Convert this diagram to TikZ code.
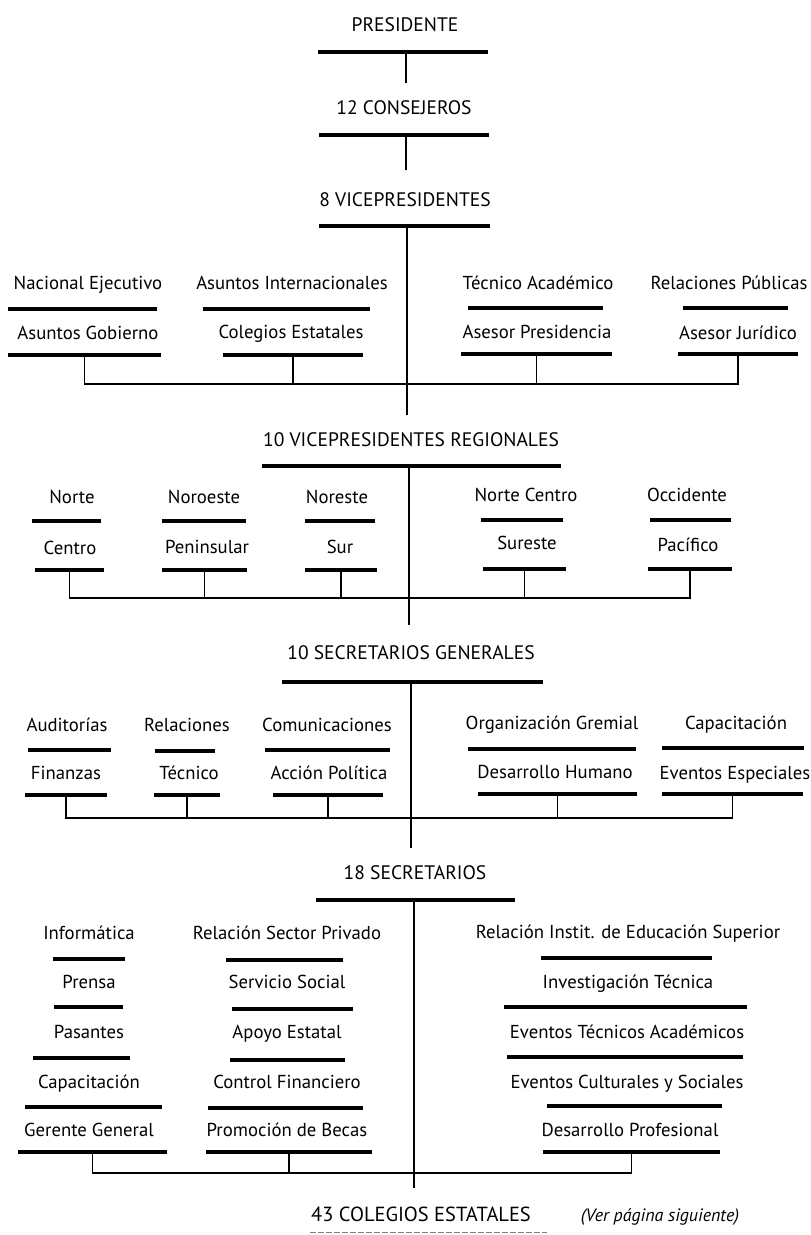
\documentclass[tikz,border=0pt]{standalone}
\usepackage{fontspec}
\setmainfont{PT Sans}
\begin{document}
\begin{tikzpicture}[x=1bp,y=-1bp,
  lab/.style={anchor=base, inner sep=0pt, font=\fontsize{18.8}{20}\selectfont},
  ttl/.style={anchor=base, inner sep=0pt, font=\fontsize{19.6}{21}\selectfont},
  barnode/.style={fill=black, draw=none, inner sep=0pt, minimum height=4.2bp},
  conn/.style={line width=1.6bp, line cap=rect},
  trunk/.style={line width=1.9bp}]
\useasboundingbox (0,0) rectangle (811,1235);

% ---------- top chain ----------
\node[ttl] (p) at (405,31) {PRESIDENTE};
\node[barnode, minimum width=170bp] (pbar) at (403,52) {};
\node[ttl] (c) at (404,114) {12 CONSEJEROS};
\node[barnode, minimum width=170bp] (cbar) at (404,135) {};
\node[ttl] (v) at (405,206) {8 VICEPRESIDENTES};
\node[barnode, minimum width=171bp] (vbar) at (404.5,226) {};
\coordinate (pend) at (406,83);
\coordinate (cend) at (406,170);
\coordinate (vend) at (407,415);
\draw[trunk] (pbar.south -| pend) -- (pend);
\draw[trunk] (cbar.south -| cend) -- (cend);
\draw[trunk] (vbar.south -| vend) -- (vend);

% ---------- section A ----------
\node[lab] (a1t) at (88,289) {Nacional Ejecutivo};
\node[barnode, minimum width=149bp] (a1u) at (82.5,309) {};
\node[lab] (a1s) at (88,339) {Asuntos Gobierno};
\node[barnode, minimum width=153bp] (a1l) at (84.5,355) {};
\node[lab] (a2t) at (292,289) {Asuntos Internacionales};
\node[barnode, minimum width=167bp] (a2u) at (286.5,309) {};
\node[lab] (a2s) at (291,338) {Colegios Estatales};
\node[barnode, minimum width=140bp] (a2l) at (293,355) {};
\node[lab] (a3t) at (538,289) {Técnico Académico};
\node[barnode, minimum width=135bp] (a3u) at (535.5,308) {};
\node[lab] (a3s) at (537,338) {Asesor Presidencia};
\node[barnode, minimum width=151bp] (a3l) at (536.5,354) {};
\node[lab] (a4t) at (729,289) {Relaciones Públicas};
\node[barnode, minimum width=105bp] (a4u) at (735.5,308) {};
\node[lab] (a4s) at (738,339) {Asesor Jurídico};
\node[barnode, minimum width=120bp] (a4l) at (738,354) {};
\coordinate (hA) at (0,384);
\draw[conn] (a1l.south) |- (a4l.south |- hA) -- (a4l.south);
\draw[conn] (a2l.south) -- (a2l.south |- hA);
\draw[conn] (a3l.south) -- (a3l.south |- hA);

% ---------- section B ----------
\node[ttl] (b0) at (411,446) {10 VICEPRESIDENTES REGIONALES};
\node[barnode, minimum width=299bp] (b0bar) at (411.5,466) {};
\coordinate (bend) at (409,625);
\draw[trunk] (b0bar.south -| bend) -- (bend);
\node[lab] (b1t) at (72,503) {Norte};
\node[barnode, minimum width=69bp] (b1u) at (66.5,521) {};
\node[lab] (b1s) at (70,554) {Centro};
\node[barnode, minimum width=69bp] (b1l) at (69.5,570) {};
\node[lab] (b2t) at (204,503) {Noroeste};
\node[barnode, minimum width=84bp] (b2u) at (204,521) {};
\node[lab] (b2s) at (207,553) {Peninsular};
\node[barnode, minimum width=85bp] (b2l) at (204.5,570) {};
\node[lab] (b3t) at (337,503) {Noreste};
\node[barnode, minimum width=70bp] (b3u) at (340,521) {};
\node[lab] (b3s) at (340,553) {Sur};
\node[barnode, minimum width=72bp] (b3l) at (341,570) {};
\node[lab] (b4t) at (526,501) {Norte Centro};
\node[barnode, minimum width=82bp] (b4u) at (522,520) {};
\node[lab] (b4s) at (527,549) {Sureste};
\node[barnode, minimum width=83bp] (b4l) at (524.5,569) {};
\node[lab] (b5t) at (687,501) {Occidente};
\node[barnode, minimum width=81bp] (b5u) at (690.5,520) {};
\node[lab] (b5s) at (688,551) {Pacífico};
\node[barnode, minimum width=84bp] (b5l) at (690,569) {};
\coordinate (hB) at (0,598);
\draw[conn] (b1l.south) |- (b5l.south |- hB) -- (b5l.south);
\draw[conn] (b2l.south) -- (b2l.south |- hB);
\draw[conn] (b3l.south) -- (b3l.south |- hB);
\draw[conn] (b4l.south) -- (b4l.south |- hB);

% ---------- section C ----------
\node[ttl] (c0) at (411,659) {10 SECRETARIOS GENERALES};
\node[barnode, minimum width=261bp] (c0bar) at (412.5,682) {};
\coordinate (cend2) at (411,848);
\draw[trunk] (c0bar.south -| cend2) -- (cend2);
\node[lab] (c1t) at (67,731) {Auditorías};
\node[barnode, minimum width=83bp] (c1u) at (69.5,750) {};
\node[lab] (c1s) at (66,779) {Finanzas};
\node[barnode, minimum width=82bp] (c1l) at (66,795) {};
\node[lab] (c2t) at (187,731) {Relaciones};
\node[barnode, minimum width=60bp] (c2u) at (185,751) {};
\node[lab] (c2s) at (189,779) {Técnico};
\node[barnode, minimum width=66bp] (c2l) at (187,795) {};
\node[lab] (c3t) at (327,731) {Comunicaciones};
\node[barnode, minimum width=125bp] (c3u) at (327.5,750) {};
\node[lab] (c3s) at (329,779) {Acción Política};
\node[barnode, minimum width=110bp] (c3l) at (328,795) {};
\node[lab] (c4t) at (552,729) {Organización Gremial};
\node[barnode, minimum width=168bp] (c4u) at (552,749) {};
\node[lab] (c4s) at (555,778) {Desarrollo Humano};
\node[barnode, minimum width=159bp] (c4l) at (557.5,794) {};
\node[lab] (c5t) at (736,729) {Capacitación};
\node[barnode, minimum width=142bp] (c5u) at (733,748) {};
\node[lab] (c5s) at (735,779) {Eventos Especiales};
\node[barnode, minimum width=141bp] (c5l) at (732.5,794) {};
\coordinate (hC) at (0,818);
\draw[conn] (c1l.south) |- (c5l.south |- hC) -- (c5l.south);
\draw[conn] (c2l.south) -- (c2l.south |- hC);
\draw[conn] (c3l.south) -- (c3l.south |- hC);
\draw[conn] (c4l.south) -- (c4l.south |- hC);

% ---------- section D ----------
\node[ttl] (d0) at (415,879) {18 SECRETARIOS};
\node[barnode, minimum width=199bp] (d0bar) at (415.5,900) {};
\coordinate (dend) at (414,1188);
\draw[trunk] (d0bar.south -| dend) -- (dend);
% column 1
\node[lab] (e1) at (89,939) {Informática};
\node[barnode, minimum width=72bp] (e1b) at (89,959) {};
\node[lab] (e2) at (89,988) {Prensa};
\node[barnode, minimum width=69bp] (e2b) at (88.5,1007) {};
\node[lab] (e3) at (89,1038) {Pasantes};
\node[barnode, minimum width=97bp] (e3b) at (81.5,1058) {};
\node[lab] (e4) at (89,1088) {Capacitación};
\node[barnode, minimum width=137bp] (e4b) at (93.5,1107) {};
\node[lab] (e5) at (89,1136) {Gerente General};
\node[barnode, minimum width=149bp] (e5b) at (92.5,1152) {};
% column 2
\node[lab] (f1) at (287,939) {Relación Sector Privado};
\node[barnode, minimum width=117bp] (f1b) at (284.5,960) {};
\node[lab] (f2) at (287,988) {Servicio Social};
\node[barnode, minimum width=121bp] (f2b) at (292.5,1009) {};
\node[lab] (f3) at (287,1038) {Apoyo Estatal};
\node[barnode, minimum width=115bp] (f3b) at (287.5,1060) {};
\node[lab] (f4) at (287,1088) {Control Financiero};
\node[barnode, minimum width=155bp] (f4b) at (285.5,1108) {};
\node[lab] (f5) at (287,1136) {Promoción de Becas};
\node[barnode, minimum width=166bp] (f5b) at (289,1152) {};
% column 3
\node[lab] (g1) at (628,938) {Relación Instit. de Educación Superior};
\node[barnode, minimum width=171bp] (g1b) at (626.5,958) {};
\node[lab] (g2) at (628,988) {Investigación Técnica};
\node[barnode, minimum width=243bp] (g2b) at (625.5,1007) {};
\node[lab] (g3) at (627,1038) {Eventos Técnicos Académicos};
\node[barnode, minimum width=236bp] (g3b) at (625,1057) {};
\node[lab] (g4) at (627,1088) {Eventos Culturales y Sociales};
\node[barnode, minimum width=175bp] (g4b) at (634.5,1106) {};
\node[lab] (g5) at (630,1136) {Desarrollo Profesional};
\node[barnode, minimum width=177bp] (g5b) at (631.5,1152) {};
\coordinate (hD) at (0,1173);
\draw[conn] (e5b.south) |- (g5b.south |- hD) -- (g5b.south);
\draw[conn] (f5b.south) -- (f5b.south |- hD);

% ---------- bottom ----------
\node[anchor=base, inner sep=0pt, font=\fontsize{20.5}{22}\selectfont] (h0) at (421,1221) {43 COLEGIOS ESTATALES};
\node[anchor=base, inner sep=0pt, font=\fontsize{18}{20}\selectfont\itshape] (h1) at (660,1221) {(Ver página siguiente)};
\coordinate (ul1) at (310,1232);
\coordinate (ul2) at (547,1232);
\draw[line width=0.8bp, gray, dash pattern=on 6bp off 2bp] (ul1) -- (ul2);
\end{tikzpicture}
\end{document}
